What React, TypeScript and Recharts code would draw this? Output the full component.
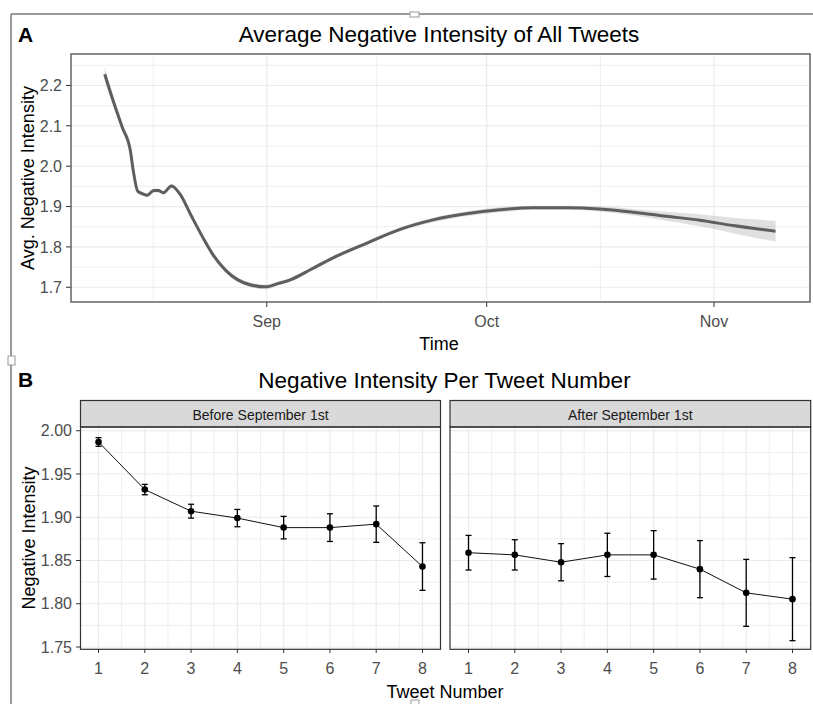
import React from 'react';
import { ComposedChart, Line, Area, XAxis, YAxis, CartesianGrid, ErrorBar } from 'recharts';

// ---------- Panel A data (days relative to Sep 1) ----------
const dayOffsets = [
  -22.1, -20.8, -19.7, -18.6, -18.2, -17.6, -17.0, -16.3, -15.4, -14.8, -14.1, -13.0,
  -11.8, -10.4, -8.3, -7.2, -5.6, -4.0, -2.4, -0.1, 1.5, 3.3, 6.0, 9.05, 13.6, 18.1,
  22.7, 27.2, 31.8, 36.3, 40.9, 45.4, 50.0, 54.5, 59.1, 63.6, 69.4,
];
const avgIntensity = [
  2.228, 2.154, 2.096, 2.038, 1.988, 1.938, 1.932, 1.928, 1.940, 1.940, 1.934, 1.951,
  1.930, 1.881, 1.810, 1.777, 1.742, 1.719, 1.707, 1.701, 1.709, 1.719, 1.744, 1.773,
  1.809, 1.843, 1.867, 1.882, 1.892, 1.897, 1.897, 1.894, 1.886, 1.876, 1.866, 1.853, 1.839,
];
const bandHalfWidth = [
  0.018, 0.012, 0.009, 0.008, 0.007, 0.006, 0.005, 0.005, 0.005, 0.005, 0.005, 0.005,
  0.005, 0.005, 0.005, 0.005, 0.005, 0.006, 0.006, 0.006, 0.005, 0.005, 0.005, 0.005,
  0.005, 0.005, 0.006, 0.006, 0.006, 0.005, 0.005, 0.006, 0.008, 0.011, 0.015, 0.019, 0.026,
];
const monthTicks = [0, 30, 61];
const monthLabels = ['Sep', 'Oct', 'Nov'];
const monthMinor = [-15.5, 15, 45.5];
const topYTicks = [1.7, 1.8, 1.9, 2.0, 2.1, 2.2];
const topYMinor = [1.75, 1.85, 1.95, 2.05, 2.15, 2.25];

// ---------- Panel B data ----------
const tweetNumbers = [1, 2, 3, 4, 5, 6, 7, 8];
const tweetMinor = [1.5, 2.5, 3.5, 4.5, 5.5, 6.5, 7.5];
const beforeMean = [1.987, 1.932, 1.907, 1.899, 1.888, 1.888, 1.892, 1.843];
const beforeErr = [0.005, 0.006, 0.008, 0.010, 0.013, 0.016, 0.021, 0.0275];
const afterMean = [1.859, 1.8565, 1.848, 1.8565, 1.8565, 1.840, 1.8126, 1.8053];
const afterErr = [0.020, 0.0175, 0.0215, 0.025, 0.028, 0.033, 0.0387, 0.048];
const bottomYTicks = [1.75, 1.8, 1.85, 1.9, 1.95, 2.0];
const bottomYMinor = [1.775, 1.825, 1.875, 1.925, 1.975];
const facetLabels = ['Before September 1st', 'After September 1st'];

const topData = dayOffsets.map((d, i) => ({
  day: d,
  value: avgIntensity[i],
  band: [avgIntensity[i] - bandHalfWidth[i], avgIntensity[i] + bandHalfWidth[i]],
}));
const beforeData = tweetNumbers.map((n, i) => ({ n, mean: beforeMean[i], err: beforeErr[i] }));
const afterData = tweetNumbers.map((n, i) => ({ n, mean: afterMean[i], err: afterErr[i] }));

const FONT = '"Liberation Sans", Arial, Helvetica, sans-serif';
const tickStyle = { fill: '#4D4D4D', fontSize: 16 };
const GRID = '#EBEBEB';

function FacetChart({ data, width, margin, showY }: any) {
  return (
    <ComposedChart width={width} height={344} data={data} margin={margin}>
      <CartesianGrid verticalValues={tweetMinor} horizontalValues={bottomYMinor} stroke={GRID} strokeWidth={0.8} />
      <CartesianGrid verticalValues={tweetNumbers} horizontalValues={bottomYTicks} stroke={GRID} strokeWidth={1.2} />
      <XAxis
        type="number"
        dataKey="n"
        domain={[0.6, 8.4]}
        ticks={tweetNumbers}
        allowDataOverflow
        axisLine={false}
        tickLine={{ stroke: '#333333' }}
        tickSize={4}
        tickMargin={10}
        height={30}
        tick={tickStyle}
        interval={0}
      />
      <YAxis
        type="number"
        domain={[1.7477, 2.0043]}
        ticks={bottomYTicks}
        allowDataOverflow
        hide={!showY}
        width={50}
        axisLine={false}
        tickLine={{ stroke: '#333333' }}
        tickSize={4}
        tickMargin={4}
        tick={tickStyle}
        interval={0}
        tickFormatter={(v: number) => v.toFixed(2)}
      />
      <Line
        dataKey="mean"
        type="linear"
        stroke="#111"
        strokeWidth={1}
        dot={{ r: 3.3, fill: '#000', stroke: '#000', strokeWidth: 0 }}
        isAnimationActive={false}
      >
        <ErrorBar dataKey="err" width={3} stroke="#000" strokeWidth={1.3} direction="y" />
      </Line>
    </ComposedChart>
  );
}

export default function App() {
  return (
    <div style={{ position: 'absolute', left: 0, top: 0, width: 813, height: 704, background: '#fff', fontFamily: FONT }}>
      <div style={{ position: 'absolute', left: 0, top: 0 }}>
        <ComposedChart width={813} height={360} data={topData} margin={{ top: 54, right: 3, bottom: 28, left: 31 }}>
          <CartesianGrid verticalValues={monthMinor} horizontalValues={topYMinor} stroke={GRID} strokeWidth={0.8} />
          <CartesianGrid verticalValues={monthTicks} horizontalValues={topYTicks} stroke={GRID} strokeWidth={1.2} />
          <XAxis
            type="number"
            dataKey="day"
            domain={[-26.7, 74.1]}
            ticks={monthTicks}
            allowDataOverflow
            axisLine={false}
            tickLine={{ stroke: '#333333' }}
            tickSize={5}
            tickMargin={9}
            height={30}
            tick={tickStyle}
            interval={0}
            tickFormatter={(v: number) => monthLabels[monthTicks.indexOf(v)]}
          />
          <YAxis
            type="number"
            domain={[1.6635, 2.278]}
            ticks={topYTicks}
            allowDataOverflow
            width={40}
            axisLine={false}
            tickLine={{ stroke: '#333333' }}
            tickSize={5}
            tickMargin={4}
            tick={tickStyle}
            interval={0}
            tickFormatter={(v: number) => v.toFixed(1)}
          />
          <Area dataKey="band" type="monotone" stroke="none" fill="#999999" fillOpacity={0.3} isAnimationActive={false} />
          <Line dataKey="value" type="monotone" stroke="#5E5E5E" strokeWidth={3} dot={false} isAnimationActive={false} />
        </ComposedChart>
      </div>
      <div style={{ position: 'absolute', left: 0, top: 360 }}>
        <FacetChart data={beforeData} width={445} margin={{ top: 67, right: 4, bottom: 25, left: 30 }} showY />
      </div>
      <div style={{ position: 'absolute', left: 445, top: 360 }}>
        <FacetChart data={afterData} width={368} margin={{ top: 67, right: 2, bottom: 25, left: 5 }} showY={false} />
      </div>
      <svg width={813} height={704} style={{ position: 'absolute', left: 0, top: 0, pointerEvents: 'none' }}>
        {/* outer frame */}
        <line x1={11} y1={14} x2={813} y2={14} stroke="#7a7a7a" strokeWidth={1.5} />
        <line x1={11} y1={14} x2={11} y2={357} stroke="#7a7a7a" strokeWidth={1.5} />
        <line x1={11} y1={365} x2={11} y2={704} stroke="#7a7a7a" strokeWidth={1.5} />
        <rect x={8} y={356} width={7} height={9} fill="#fff" stroke="#999" strokeWidth={1} />
        <rect x={410} y={12} width={9} height={5} fill="#fff" stroke="#999" strokeWidth={1} />
        <rect x={411} y={700} width={8} height={6} fill="#fff" stroke="#999" strokeWidth={1} />

        {/* Panel A */}
        <text x={18} y={42} fontSize={21} fontWeight="bold" fill="#000">A</text>
        <text x={439} y={42} fontSize={22.5} textAnchor="middle" fill="#000">Average Negative Intensity of All Tweets</text>
        <rect x={71} y={54} width={739} height={248} fill="none" stroke="#4D4D4D" strokeWidth={1.3} />
        <text x={439} y={350} fontSize={18} textAnchor="middle" fill="#000">Time</text>
        <text x={0} y={0} fontSize={18} textAnchor="middle" fill="#000" transform="translate(34,178) rotate(-90)">Avg. Negative Intensity</text>

        {/* Panel B */}
        <text x={18} y={387} fontSize={21} fontWeight="bold" fill="#000">B</text>
        <text x={444.5} y={388} fontSize={22.5} textAnchor="middle" fill="#000">Negative Intensity Per Tweet Number</text>
        <rect x={80.5} y={400.5} width={360} height={26.5} fill="#D9D9D9" stroke="#333333" strokeWidth={1.2} />
        <rect x={450} y={400.5} width={360.7} height={26.5} fill="#D9D9D9" stroke="#333333" strokeWidth={1.2} />
        <text x={260.5} y={419.5} fontSize={14} textAnchor="middle" fill="#1A1A1A">{facetLabels[0]}</text>
        <text x={630.3} y={419.5} fontSize={14} textAnchor="middle" fill="#1A1A1A">{facetLabels[1]}</text>
        <rect x={80.5} y={427} width={360} height={222.3} fill="none" stroke="#333333" strokeWidth={1.2} />
        <rect x={450} y={427} width={360.7} height={222.3} fill="none" stroke="#333333" strokeWidth={1.2} />
        <text x={0} y={0} fontSize={18} textAnchor="middle" fill="#000" transform="translate(35,538) rotate(-90)">Negative Intensity</text>
        <text x={445} y={698} fontSize={18} textAnchor="middle" fill="#000">Tweet Number</text>
      </svg>
    </div>
  );
}
